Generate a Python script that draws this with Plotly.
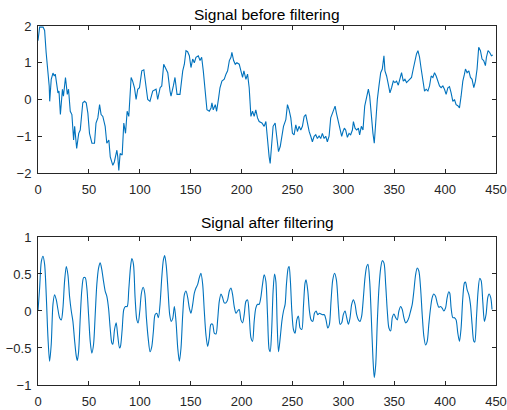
import plotly.graph_objects as go
from plotly.subplots import make_subplots

# ---- Signal before filtering (traced) ----
x_raw = [0, 1.6, 5, 6.5, 8, 10, 11, 11.5, 13, 14.7, 16, 17, 19.6, 20.6, 22, 24, 25, 27, 28.8, 30,
         31.7, 33.3, 35, 36, 38, 40, 41.5, 44, 45.8, 47.4, 49, 50.6, 53, 55.5, 57, 58.8, 60.5, 62,
         63.7, 66, 67.6, 69.6, 71, 73.5, 75, 77.5, 78.4, 79.4, 80.7, 82.7, 84.3, 86, 87.6, 89.2,
         91.5, 93, 94.8, 96.4, 98, 99.7, 102, 104, 105.6, 107.8, 110, 112.7, 116, 117.6, 120,
         121.6, 123.5, 125.8, 127.5, 129.7, 130.7, 133, 134.6, 136.6, 139.5, 142.2, 143.8, 145.4,
         147, 148.7, 150.3, 152, 153.6, 155.2, 157.5, 159.2, 160.8, 162.4, 164.4, 166, 168.3, 170,
         170.9, 172.2, 174.2, 175.5, 177.5, 178.8, 180.7, 183, 184.7, 186.3, 188, 189.6, 190.5,
         192.2, 193.8, 195.4, 197.7, 199.4, 201, 202.3, 204.3, 205.9, 207.5, 209.2, 210.8, 212.4,
         214, 215.7, 217.3, 220, 222.2, 223.9, 225.5, 227.1, 228.1, 229.4, 231, 233, 234.7, 236.3,
         238, 239.6, 241.2, 243.5, 245.1, 246.7, 248.4, 250, 251.6, 253.3, 254.9, 256.5, 258.2,
         259.8, 261.5, 263.1, 264.7, 266.4, 268, 269.6, 271.3, 272.9, 274.5, 276.2, 277.8, 279.4,
         281.1, 282.7, 284.3, 286, 287.6, 289.3, 291.9, 293.2, 295.2, 296.8, 298.4, 299.7, 301,
         302.3, 304, 305.6, 307.2, 308.9, 309.9, 311.5, 313.1, 314.8, 316, 317.7, 319.3, 321,
         322.6, 324.6, 325.9, 327.2, 329.1, 330.4, 331.8, 333.4, 335, 336.7, 338.3, 339.9, 340.9,
         342.5, 344.2, 345.8, 347.4, 349.1, 350.7, 352.3, 354, 355.6, 357.2, 358.9, 360.5, 362.1,
         363.8, 365.4, 367, 368.7, 370.3, 371.9, 373.3, 374.9, 376.5, 378.2, 379.8, 381.4, 383.1,
         384.7, 386.3, 388, 389.6, 391.2, 392.9, 394.5, 396.1, 397.8, 399.4, 401, 402.7, 404.3,
         405.9, 407.6, 409.2, 410.8, 412.5, 414.1, 415.7, 417.4, 419, 420, 421.6, 423.3, 424.9,
         426.5, 428.2, 429.8, 431.4, 433, 434.7, 436.3, 437.9, 439.6, 440.6, 442.2, 443.8, 445.5,
         446.8]
y_raw = [1.6, 1.97, 1.97, 1.88, 1.28, 0.64, 0.37, -0.05, 0.55, 0.72, 0.64, 0.69, 0.18, 0.23, -0.41,
         0.28, 0.09, 0.6, 0.14, 0.28, -0.32, -0.41, -1.1, -0.73, -1.33, -0.92, -0.83, -0.09, -0.05,
         -0.09, -0.37, -0.92, -1.19, -1.19, -0.64, -0.5, -0.14, -0.41, -0.46, -0.73, -1.19, -1.1,
         -1.56, -1.79, -1.7, -1.38, -1.56, -1.93, -1.47, -1.51, -0.64, -0.92, -0.32, -0.46, 0.6,
         0.5, 0.32, 0.0, 0.28, 0.32, 0.78, 0.81, 0.46, 0.0, -0.05, 0.23, 0.28, 0.0, 0.32, 0.37,
         0.96, 0.83, 0.73, 0.23, 0.09, 0.37, 0.6, 0.14, 0.14, 0.78, 0.96, 1.33, 1.3, 1.19, 0.87,
         1.1, 1.0, 1.15, 1.19, 1.06, 1.15, 0.78, 0.28, -0.28, -0.32, -0.23, -0.09, -0.28, -0.14,
         -0.32, 0.05, 0.32, 0.5, 0.55, 0.69, 0.78, 1.06, 1.15, 1.28, 1.06, 0.96, 1.0, 0.96, 0.78,
         0.6, 0.78, 0.55, 0.69, 0.32, -0.46, -0.32, -0.46, -0.28, -0.5, -0.6, -0.64, -0.73, -0.6,
         -1.19, -1.56, -1.74, -1.28, -0.73, -0.64, -1.0, -1.42, -1.28, -1.0, -0.73, -0.55, -0.14,
         -0.28, -0.5, -0.92, -0.96, -0.69, -0.87, -0.73, -0.83, -0.73, -0.46, -0.41, -0.64, -0.87,
         -1.0, -1.15, -1.0, -0.96, -1.06, -0.99, -1.06, -0.92, -1.06, -1.0, -1.15, -1.0, -0.5,
         -0.37, -0.18, -0.37, -0.64, -0.78, -1.0, -0.87, -0.78, -0.83, -1.03, -0.92, -0.96, -0.83,
         -0.6, -0.78, -0.83, -0.78, -0.96, -0.73, -0.83, -0.18, 0.0, 0.28, 0.09, -0.37, -0.92,
         -1.19, -0.55, 0.0, 0.37, 0.73, 0.83, 1.19, 0.78, 0.64, 0.41, 0.18, 0.32, 0.5, 0.46, 0.5,
         0.39, 0.55, 0.73, 0.5, 0.55, 0.46, 0.5, 0.55, 0.6, 0.83, 1.06, 1.24, 1.33, 1.15, 0.83,
         0.46, 0.23, 0.28, 0.23, 0.37, 0.64, 0.6, 0.73, 0.64, 0.5, 0.37, 0.32, 0.37, 0.28, 0.14,
         0.32, 0.35, 0.18, -0.05, 0.0, -0.14, -0.17, -0.23, 0.09, 0.5, 0.69, 0.83, 0.73, 0.78, 0.6,
         0.55, 0.32, 0.5, 0.83, 1.42, 1.33, 1.1, 1.06, 0.92, 1.15, 1.33, 1.28, 1.19, 1.21]

# ---- Signal after filtering (traced) ----
x_filt = [0, 1.6, 3.3, 4.9, 6.5, 8.2, 9.8, 11.4, 13, 14.7, 16.3, 18, 19.6, 21.2, 22.9, 24.5, 26.1,
          27.8, 29.4, 31, 32.7, 34.3, 35.9, 37.6, 38.6, 39.9, 41.5, 43.1, 44.8, 46.4, 48, 49.7,
          51.3, 52.9, 54.6, 56.2, 57.8, 59.5, 61.1, 62.7, 64.4, 66, 67.6, 69.3, 70.9, 72.5, 73.5,
          75.2, 76.8, 78.4, 80.1, 81, 82.7, 84.3, 85.9, 87.6, 89.2, 90.8, 92.2, 93.8, 95.4, 97.1,
          98.4, 100, 101.6, 103.3, 104.9, 106.5, 108.2, 110.1, 111.8, 113.4, 115, 116.7, 118.3,
          119.9, 121.6, 123.2, 124.5, 126.1, 127.8, 129.4, 130.9, 132.4, 134, 135.6, 137.3, 138.9,
          140.5, 142.2, 143.8, 145.4, 147.1, 148.7, 150.3, 152, 153.6, 155.2, 156.9, 158.5, 160.1,
          161.8, 163.4, 165, 166.7, 168.3, 169.9, 171.6, 173.2, 174.9, 176.5, 178.1, 179.8, 181.4,
          183, 184.7, 186.3, 188, 189.6, 191.2, 192.8, 194.5, 196.1, 197.7, 199.4, 201, 202.6,
          204.3, 205.9, 207.5, 209.2, 210.8, 212.4, 214, 215.7, 217.3, 218.9, 220.6, 222.2, 223.9,
          225.5, 227.1, 228.1, 229.4, 231, 232.4, 233.7, 235, 236.3, 238, 239.6, 241.2, 242.8,
          244.1, 245.8, 246.7, 248, 249.4, 251, 252.6, 254.3, 255.9, 257.5, 259.2, 260.8, 262.4,
          263.4, 265.1, 266.7, 268.3, 270, 271.6, 273.2, 274.9, 276.5, 278.1, 279.8, 281.4, 283,
          284.7, 286.3, 287.9, 289.6, 291.4, 293.2, 295.2, 296.8, 298.4, 300, 301.7, 303.3, 305,
          306.6, 308.2, 309.9, 311.5, 313.1, 314.8, 316.4, 318, 319.7, 321.3, 322.9, 324.2, 325.9,
          327.5, 329.1, 330.4, 331.8, 333.4, 335, 336.7, 338.3, 339.9, 341.6, 343.2, 344.8, 346.5,
          348.1, 349.7, 351.4, 353, 354.6, 356.3, 357.9, 359.5, 361.2, 362.8, 364.4, 366.1, 367.7,
          369.3, 371, 372.6, 374.2, 375.9, 377.5, 379.1, 380.8, 382.4, 384, 385.7, 387.3, 388.9,
          390.6, 392.2, 393.8, 395.5, 397.1, 398.7, 400.4, 402, 403.6, 404.6, 405.9, 407.6, 409.2,
          410.8, 412.5, 414.1, 415.7, 417.4, 419, 420, 421.6, 423.3, 424.9, 426.5, 428.2, 429.1,
          430.8, 432.4, 434, 435.4, 437, 438.6, 440.2, 441.9, 443.2, 444.8, 446.1]
y_filt = [0, 0.31, 0.67, 0.74, 0.63, 0.18, -0.36, -0.68, -0.45, 0.09, 0.22, 0.15, 0.02, -0.09,
          -0.12, 0.04, 0.4, 0.6, 0.49, 0.2, 0, -0.14, -0.39, -0.61, -0.67, -0.55, -0.09, 0.29,
          0.45, 0.45, 0.31, -0.05, -0.41, -0.57, -0.45, -0.05, 0.36, 0.58, 0.65, 0.56, 0.4, 0.27,
          0.2, 0.04, -0.23, -0.43, -0.45, -0.25, -0.16, -0.34, -0.5, -0.48, -0.25, 0.02, 0.06,
          0.06, 0.29, 0.58, 0.71, 0.63, 0.18, -0.12, -0.16, 0, 0.24, 0.32, 0.24, -0.09, -0.36,
          -0.55, -0.48, -0.27, -0.05, -0.03, -0.09, 0.09, 0.45, 0.69, 0.75, 0.6, 0.27, -0.05,
          -0.14, -0.1, 0.06, -0.14, -0.5, -0.68, -0.5, -0.05, 0.22, 0.27, 0.18, 0.04, -0.03, 0.09,
          0.24, 0.31, 0.36, 0.45, 0.51, 0.36, 0, -0.32, -0.48, -0.36, -0.18, -0.18, -0.3, -0.31,
          -0.12, 0.13, 0.23, 0.18, 0.11, 0.11, 0.15, 0.27, 0.31, 0.22, 0.06, -0.03, 0, 0.02,
          -0.12, -0.16, -0.05, 0.13, 0.15, -0.05, -0.36, -0.41, -0.14, 0.04, 0.09, 0.09, 0.18,
          0.36, 0.49, 0.4, -0.05, -0.52, -0.55, -0.32, 0.27, 0.5, 0.4, -0.18, -0.55, -0.36, -0.14,
          0, 0.09, 0.36, 0.58, 0.6, 0.4, 0, -0.25, -0.3, -0.12, -0.07, -0.23, -0.25, 0.06, 0.38,
          0.42, 0.27, 0, -0.12, -0.14, -0.03, 0, -0.05, -0.03, -0.04, -0.05, -0.05, -0.12, -0.23,
          -0.18, 0.13, 0.42, 0.51, 0.42, 0.04, -0.18, -0.16, -0.05, 0, -0.09, -0.18, -0.09, 0.09,
          0.15, 0.09, -0.05, -0.12, -0.14, -0.07, 0.18, 0.45, 0.6, 0.63, 0.4, -0.09, -0.64, -0.9,
          -0.73, -0.14, 0.31, 0.58, 0.68, 0.65, 0.36, 0, -0.23, -0.27, -0.09, -0.04, -0.09, -0.12,
          0, 0.06, 0.02, -0.09, -0.16, -0.14, -0.09, 0, 0.09, 0.27, 0.49, 0.58, 0.54, 0.31, -0.05,
          -0.34, -0.46, -0.41, -0.18, 0.04, 0.18, 0.23, 0.2, 0.11, 0.05, 0.06, 0.04, 0, 0.04, 0.18,
          0.26, 0.24, 0.04, -0.09, -0.09, -0.12, -0.3, -0.41, -0.23, 0.18, 0.38, 0.39, 0.29, 0.22,
          0.09, -0.18, -0.41, -0.42, -0.09, 0.27, 0.44, 0.41, 0.13, -0.14, -0.05, 0.18, 0.23, 0.18,
          0.02]

x_ticks = [0, 50, 100, 150, 200, 250, 300, 350, 400, 450]
y_ticks_top = [-2, -1, 0, 1, 2]
y_ticks_bot = [-1, -0.5, 0, 0.5, 1]
titles = ["Signal before filtering", "Signal after filtering"]

LINE = "#0072BD"
AX = "#262626"
FONT = "Liberation Sans, Arial, sans-serif"

fig = make_subplots(rows=2, cols=1)
fig.add_trace(go.Scatter(x=x_raw, y=y_raw, mode="lines",
                         line=dict(color=LINE, width=1.1)), row=1, col=1)
fig.add_trace(go.Scatter(x=x_filt, y=y_filt, mode="lines",
                         line=dict(color=LINE, width=1.1, shape="spline", smoothing=0.8)),
              row=2, col=1)

axcommon = dict(showgrid=False, zeroline=False, showline=True, linecolor=AX, linewidth=1,
                mirror="ticks", ticks="inside", ticklen=4, tickcolor=AX,
                tickfont=dict(family=FONT, size=13, color=AX))
fig.update_xaxes(range=[0, 450], tickvals=x_ticks, domain=[0, 1], ticklabelstandoff=4,
                 ticklabeloverflow="allow", **axcommon)
fig.update_yaxes(ticklabelstandoff=3, **axcommon)
fig.update_yaxes(range=[-2, 2], tickvals=y_ticks_top, domain=[0.5905, 1.0], row=1, col=1)
fig.update_yaxes(range=[-1, 1], tickvals=y_ticks_bot, domain=[0.0, 0.4123], row=2, col=1)

fig.add_annotation(text=titles[0], xref="paper", yref="paper", x=0.5, y=1.0,
                   xanchor="center", yanchor="middle", yshift=12, showarrow=False,
                   font=dict(family=FONT, size=15.5, color="#000000"))
fig.add_annotation(text=titles[1], xref="paper", yref="paper", x=0.5, y=0.4123,
                   xanchor="center", yanchor="middle", yshift=14, showarrow=False,
                   font=dict(family=FONT, size=15.5, color="#000000"))

fig.update_layout(width=507, height=410, showlegend=False,
                  margin=dict(l=38, r=11, t=26, b=25, autoexpand=False),
                  paper_bgcolor="white", plot_bgcolor="white")
fig.write_html("out.html", config={"displayModeBar": False},
               post_script="document.body.style.margin='0px';")
